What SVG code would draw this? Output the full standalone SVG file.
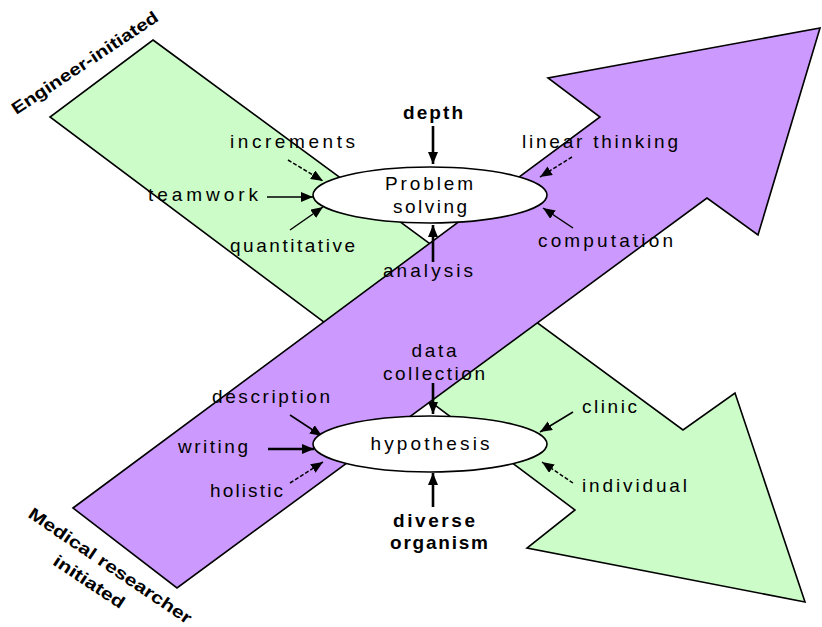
<svg xmlns="http://www.w3.org/2000/svg" width="822" height="627" viewBox="0 0 822 627">
<style>
.bg{fill:#ffffff}
.band{stroke:#000;stroke-width:1.6;stroke-linejoin:miter}
.green{fill:#ccfcc8}
.purple{fill:#cc99ff}
.node{fill:#ffffff;stroke:#000;stroke-width:1.6}
.lbl{font-family:"Liberation Sans",Arial,sans-serif;font-size:19px;fill:#000}
.b{font-weight:bold}
.corner{font-family:"Liberation Sans",Arial,sans-serif;font-size:17px;font-weight:bold;fill:#000}
.c{stroke:#000;fill:none}
.thick{stroke-width:2.6}
.thin{stroke-width:1.5}
.dash{stroke-dasharray:4 2}
</style>
<defs>
<marker id="ah" markerUnits="userSpaceOnUse" markerWidth="13" markerHeight="11" refX="12" refY="5" orient="auto">
<path d="M0,0 L12,5 L0,10 z" fill="#000"/>
</marker>
</defs>
<rect class="bg" x="0" y="0" width="822" height="627"/>
<g id="green-arrow">
<polygon class="band green" points="153,40 683,430 735,393 805,602 527,548 575,510 50,117"/>
</g>
<g id="purple-arrow">
<polygon class="band purple" points="73,508 600,117 548,78 820,28 758,235 707,198 177,588"/>
</g>
<g id="corner-engineer">
<text class="corner" transform="translate(85,63) rotate(-33.5)" text-anchor="middle" dominant-baseline="central" textLength="172" lengthAdjust="spacingAndGlyphs">Engineer-initiated</text>
</g>
<g id="corner-medical">
<text class="corner" transform="translate(110,566) rotate(34)" text-anchor="middle" dominant-baseline="central" textLength="193" lengthAdjust="spacingAndGlyphs">Medical researcher</text>
<text class="corner" transform="translate(89,582) rotate(33.5)" text-anchor="middle" dominant-baseline="central" textLength="82" lengthAdjust="spacingAndGlyphs">initiated</text>
</g>
<g id="connectors">
<line class="c thick" x1="433" y1="126" x2="433" y2="164" marker-end="url(#ah)"/>
<line class="c thick" x1="433" y1="262" x2="433" y2="225" marker-end="url(#ah)"/>
<line class="c thin dash" x1="288" y1="160" x2="323" y2="181" marker-end="url(#ah)"/>
<line class="c thin" x1="267" y1="197" x2="313" y2="197" marker-end="url(#ah)"/>
<line class="c thin" x1="290" y1="230" x2="323" y2="207" marker-end="url(#ah)"/>
<line class="c thin dash" x1="572" y1="157" x2="540" y2="177" marker-end="url(#ah)"/>
<line class="c thin" x1="573" y1="228" x2="543" y2="208" marker-end="url(#ah)"/>
<line class="c thick" x1="433" y1="383" x2="433" y2="414" marker-end="url(#ah)"/>
<line class="c thick" x1="433" y1="507" x2="433" y2="473" marker-end="url(#ah)"/>
<line class="c thin" x1="290" y1="415" x2="322" y2="436" marker-end="url(#ah)"/>
<line class="c thick" x1="268" y1="449" x2="314" y2="449" marker-end="url(#ah)"/>
<line class="c thin dash" x1="290" y1="483" x2="323" y2="462" marker-end="url(#ah)"/>
<line class="c thin" x1="573" y1="412" x2="540" y2="432" marker-end="url(#ah)"/>
<line class="c thin dash" x1="573" y1="483" x2="542" y2="462" marker-end="url(#ah)"/>
</g>
<g id="problem-solving">
<ellipse class="node" cx="430" cy="195" rx="117" ry="28"/>
<text class="lbl" x="429" y="190" text-anchor="middle" textLength="88">Problem</text>
<text class="lbl" x="430" y="213" text-anchor="middle" textLength="74">solving</text>
</g>
<g id="hypothesis">
<ellipse class="node" cx="430" cy="444" rx="117" ry="28"/>
<text class="lbl" x="430" y="450" text-anchor="middle" textLength="119">hypothesis</text>
</g>
<g id="labels">
<text class="lbl b" x="433" y="119" text-anchor="middle" textLength="60">depth</text>
<text class="lbl" x="522" y="148" textLength="156">linear thinking</text>
<text class="lbl" x="538" y="247" textLength="135">computation</text>
<text class="lbl" x="428" y="277" text-anchor="middle" textLength="90">analysis</text>
<text class="lbl" x="230" y="148" textLength="125">increments</text>
<text class="lbl" x="148" y="201" textLength="110">teamwork</text>
<text class="lbl" x="230" y="252" textLength="125">quantitative</text>
<text class="lbl" x="434" y="357" text-anchor="middle" textLength="45">data</text>
<text class="lbl" x="434" y="380" text-anchor="middle" textLength="102">collection</text>
<text class="lbl" x="212" y="403" textLength="118">description</text>
<text class="lbl" x="178" y="453" textLength="70">writing</text>
<text class="lbl" x="210" y="497" textLength="73">holistic</text>
<text class="lbl" x="582" y="413" textLength="55">clinic</text>
<text class="lbl" x="582" y="492" textLength="105">individual</text>
<text class="lbl b" x="434" y="527" text-anchor="middle" textLength="82">diverse</text>
<text class="lbl b" x="439" y="549" text-anchor="middle" textLength="98">organism</text>
</g>
</svg>
